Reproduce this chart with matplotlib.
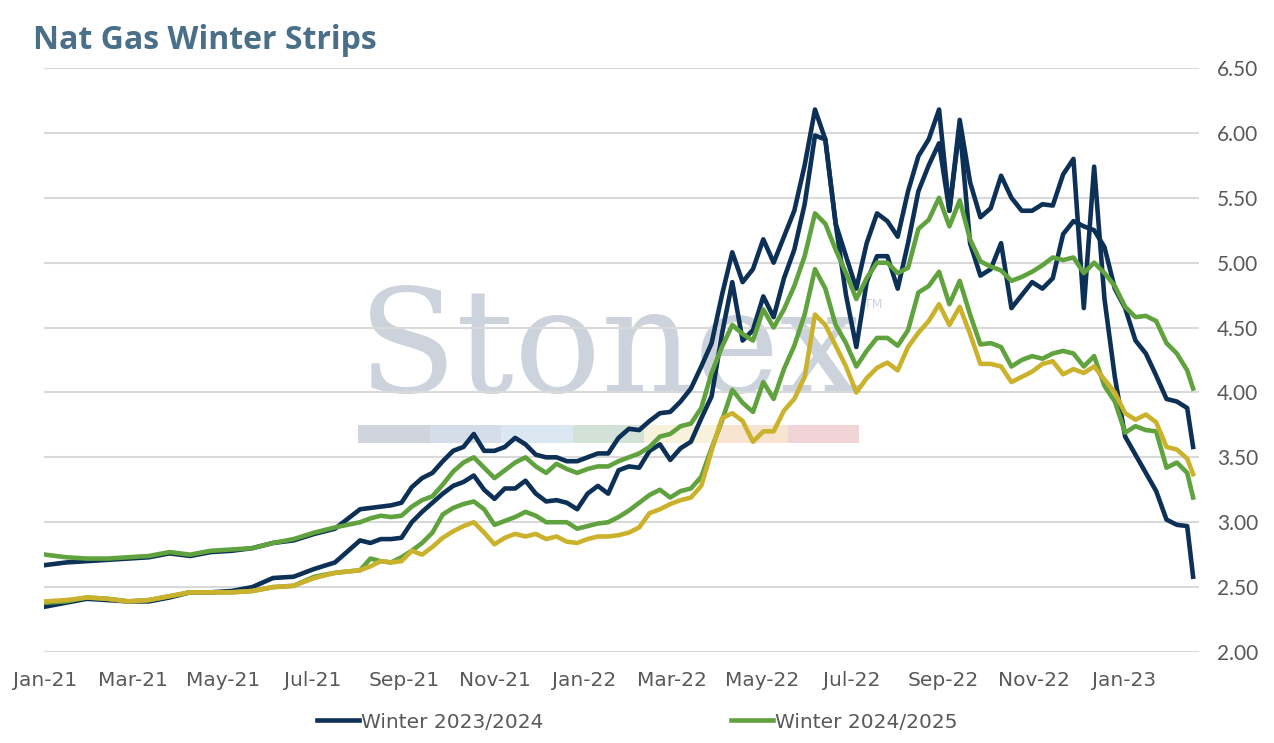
import numpy as np
import pandas as pd
import matplotlib
matplotlib.use('Agg')
import matplotlib.pyplot as plt
from matplotlib.patches import Rectangle

# biweekly points through mid 2021, weekly after that
dates = (list(pd.date_range('2021-01-01', periods=15, freq='14D')) +
         list(pd.date_range('2021-08-02', '2023-02-13', freq='7D')) +
         [pd.Timestamp('2023-02-17')])

navy_a = [2.67, 2.69, 2.70, 2.71, 2.72, 2.73, 2.76, 2.74, 2.77, 2.78, 2.80, 2.84, 2.86, 2.91, 2.95,
          3.10, 3.11, 3.12, 3.13, 3.15, 3.27, 3.34, 3.38, 3.47, 3.55,
          3.58, 3.68, 3.55, 3.55, 3.58, 3.65, 3.60, 3.52, 3.50, 3.50,
          3.47, 3.47, 3.50, 3.53, 3.53, 3.65, 3.72, 3.71, 3.78, 3.84,
          3.85, 3.93, 4.03, 4.20, 4.38, 4.75, 5.08, 4.85, 4.95, 5.18,
          5.00, 5.20, 5.40, 5.75, 6.18, 5.95, 5.30, 5.05, 4.80, 5.15,
          5.38, 5.32, 5.20, 5.55, 5.82, 5.95, 6.18, 5.40, 6.10, 5.62,
          5.35, 5.42, 5.67, 5.50, 5.40, 5.40, 5.45, 5.44, 5.68, 5.80,
          4.65, 5.74, 4.72, 4.12, 3.66, 3.52, 3.38, 3.24, 3.02, 2.98,
          2.97, 2.58]

navy_b = [2.35, 2.38, 2.41, 2.40, 2.39, 2.39, 2.42, 2.46, 2.46, 2.47, 2.50, 2.57, 2.58, 2.64, 2.69,
          2.86, 2.84, 2.87, 2.87, 2.88, 3.00, 3.08, 3.15, 3.22, 3.28,
          3.31, 3.36, 3.25, 3.18, 3.26, 3.26, 3.32, 3.22, 3.16, 3.17,
          3.15, 3.10, 3.22, 3.28, 3.22, 3.40, 3.43, 3.42, 3.55, 3.60,
          3.48, 3.57, 3.62, 3.80, 3.97, 4.45, 4.85, 4.40, 4.48, 4.74,
          4.58, 4.88, 5.10, 5.45, 5.98, 5.95, 5.30, 4.75, 4.35, 4.85,
          5.05, 5.05, 4.80, 5.15, 5.55, 5.75, 5.92, 5.40, 6.05, 5.15,
          4.90, 4.95, 5.15, 4.65, 4.75, 4.85, 4.80, 4.88, 5.22, 5.32,
          5.28, 5.25, 5.12, 4.80, 4.65, 4.40, 4.30, 4.13, 3.95, 3.93,
          3.88, 3.58]

green_a = [2.75, 2.73, 2.72, 2.72, 2.73, 2.74, 2.77, 2.75, 2.78, 2.79, 2.80, 2.84, 2.87, 2.92, 2.96,
           3.00, 3.03, 3.05, 3.04, 3.05, 3.12, 3.17, 3.20, 3.29, 3.39,
           3.46, 3.50, 3.42, 3.34, 3.40, 3.46, 3.50, 3.43, 3.38, 3.45,
           3.41, 3.38, 3.41, 3.43, 3.43, 3.47, 3.50, 3.53, 3.58, 3.66,
           3.68, 3.74, 3.76, 3.88, 4.15, 4.35, 4.52, 4.45, 4.40, 4.64,
           4.50, 4.64, 4.82, 5.05, 5.38, 5.30, 5.10, 4.92, 4.72, 4.88,
           5.00, 5.00, 4.92, 4.96, 5.26, 5.33, 5.50, 5.28, 5.48, 5.18,
           5.01, 4.97, 4.94, 4.86, 4.89, 4.93, 4.98, 5.04, 5.02, 5.04,
           4.92, 5.00, 4.92, 4.82, 4.66, 4.58, 4.59, 4.55, 4.38, 4.30,
           4.17, 4.03]

green_b = [2.38, 2.39, 2.42, 2.41, 2.39, 2.40, 2.43, 2.46, 2.46, 2.46, 2.47, 2.50, 2.51, 2.58, 2.61,
           2.63, 2.72, 2.70, 2.69, 2.73, 2.78, 2.84, 2.92, 3.06, 3.11,
           3.14, 3.16, 3.10, 2.98, 3.01, 3.04, 3.08, 3.05, 3.00, 3.00,
           3.00, 2.95, 2.97, 2.99, 3.00, 3.04, 3.09, 3.15, 3.21, 3.25,
           3.19, 3.24, 3.26, 3.35, 3.57, 3.78, 4.02, 3.92, 3.85, 4.08,
           3.95, 4.18, 4.36, 4.60, 4.95, 4.80, 4.52, 4.38, 4.20, 4.32,
           4.42, 4.42, 4.36, 4.48, 4.77, 4.82, 4.93, 4.68, 4.86, 4.60,
           4.37, 4.38, 4.35, 4.20, 4.25, 4.28, 4.26, 4.30, 4.32, 4.30,
           4.20, 4.28, 4.05, 3.93, 3.69, 3.74, 3.71, 3.70, 3.42, 3.46,
           3.38, 3.19]

gold = [2.39, 2.40, 2.42, 2.41, 2.39, 2.40, 2.43, 2.46, 2.46, 2.46, 2.47, 2.50, 2.51, 2.57, 2.61,
        2.63, 2.66, 2.70, 2.69, 2.70, 2.78, 2.75, 2.81, 2.88, 2.93,
        2.97, 3.00, 2.92, 2.83, 2.88, 2.91, 2.89, 2.91, 2.87, 2.89,
        2.85, 2.84, 2.87, 2.89, 2.89, 2.90, 2.92, 2.96, 3.07, 3.10,
        3.14, 3.17, 3.19, 3.28, 3.55, 3.80, 3.84, 3.78, 3.62, 3.70,
        3.70, 3.86, 3.95, 4.12, 4.60, 4.52, 4.36, 4.20, 4.00, 4.11,
        4.19, 4.23, 4.17, 4.35, 4.46, 4.55, 4.68, 4.52, 4.66, 4.45,
        4.22, 4.22, 4.20, 4.08, 4.12, 4.16, 4.22, 4.24, 4.14, 4.18,
        4.15, 4.20, 4.10, 4.00, 3.84, 3.79, 3.83, 3.77, 3.58, 3.56,
        3.49, 3.37]

tick_dates = pd.date_range('2021-01-01', '2023-01-01', freq='2MS')
tick_labels = [d.strftime('%b-%y') for d in tick_dates]
y_ticks = np.arange(2.0, 6.51, 0.5)

NAVY = '#0c3056'
GREEN = '#60a23e'
GOLD = '#cbb22c'
GREY_TXT = '#595959'

fig = plt.figure(figsize=(12.74, 7.43), dpi=100)
ax = fig.add_axes([44/1274, 1 - 652/743, (1199-44)/1274, (652-68)/743])

# watermark behind the lines
wm = '#ccd3dc'
ax.text(358/1274, 1 - 392/743, 'Stonex', transform=fig.transFigure, fontsize=104,
        family='DejaVu Serif', color=wm, ha='left', va='baseline', zorder=0.2)
ax.text(864/1274, 1 - 308/743, 'TM', transform=fig.transFigure, fontsize=9,
        color=wm, ha='left', va='baseline', zorder=0.2)
bar_cols = ['#d0d5dd', '#d5dde8', '#dbe8f2', '#d3e2d7', '#f6f2dc', '#f6e3d0', '#f1d4d5']
for i, c in enumerate(bar_cols):
    x0 = 358 + i * 71.6
    ax.add_patch(Rectangle((x0/1274, 1 - 443/743), 71.6/1274, 18/743,
                           transform=fig.transFigure, color=c, lw=0, zorder=0.2))

lw = 3.3
ax.plot(dates, navy_a, color=NAVY, lw=lw, label='Winter 2023/2024', zorder=2)
ax.plot(dates, navy_b, color=NAVY, lw=lw, zorder=2)
ax.plot(dates, green_a, color=GREEN, lw=lw, label='Winter 2024/2025', zorder=2.1)
ax.plot(dates, green_b, color=GREEN, lw=lw, zorder=2.1)
ax.plot(dates, gold, color=GOLD, lw=lw, zorder=2.2)

ax.set_ylim(2.0, 6.5)
ax.set_xlim(pd.Timestamp('2020-12-31'), pd.Timestamp('2023-02-21'))
ax.set_yticks(y_ticks)
ax.set_yticklabels([f'{v:.2f}' for v in y_ticks], family='Lato', fontsize=15, color=GREY_TXT)
ax.set_xticks(tick_dates)
ax.set_xticklabels(tick_labels, family='DejaVu Sans', fontsize=14.5, color=GREY_TXT)
ax.yaxis.tick_right()
ax.tick_params(axis='y', length=0, pad=13)
ax.tick_params(axis='x', length=0, pad=14)
ax.grid(axis='y', color='#d9d9d9', lw=1.5)
ax.set_axisbelow(True)
for s in ax.spines.values():
    s.set_visible(False)

fig.text(33/1274, 1 - 49/743, 'Nat Gas Winter Strips', family='Open Sans', fontweight='bold',
         fontsize=23, color='#4a6f89', ha='left', va='baseline')

leg = fig.legend(loc='center', bbox_to_anchor=(0.5, 1 - 722/743), ncol=2, frameon=False,
                 handlelength=2.1, handletextpad=0.1, columnspacing=9.3,
                 prop={'family': 'DejaVu Sans', 'size': 14.5})
for t in leg.get_texts():
    t.set_color(GREY_TXT)

fig.savefig('out.png', dpi=100)
